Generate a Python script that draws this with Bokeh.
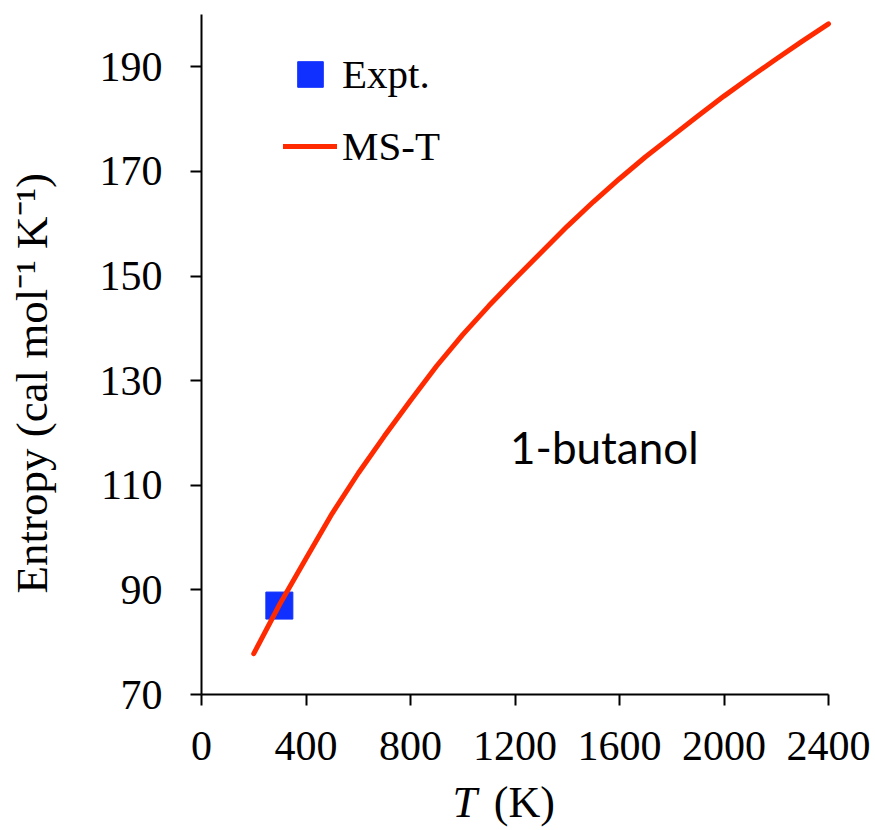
from math import pi
from bokeh.plotting import figure
from bokeh.models import Range1d, FixedTicker, Legend, LegendItem, Label
from bokeh.embed import file_html
from bokeh.resources import INLINE

# MS-T computed entropy of 1-butanol (cal mol^-1 K^-1) vs temperature (K)
temperature_K = [200, 300, 400, 500, 600, 700, 800, 900, 1000, 1100, 1200, 1300,
                 1400, 1500, 1600, 1700, 1800, 1900, 2000, 2100, 2200, 2300, 2400]
entropy_mst = [77.8, 87.3, 96.0, 104.6, 112.3, 119.4, 126.2, 132.8, 138.8, 144.3, 149.5, 154.5,
               159.5, 164.2, 168.6, 172.8, 176.7, 180.6, 184.4, 188.0, 191.5, 194.9, 198.2]

# experimental value
expt_T = [298]
expt_S = [87.0]

x_ticks = [0, 400, 800, 1200, 1600, 2000, 2400]
y_ticks = [70, 90, 110, 130, 150, 170, 190]

SERIF = "'Liberation Serif', 'Times New Roman', serif"
BLUE = "#1030FF"
RED = "#FF2A00"

# canvas layout: plot area from px 201..828 (x 0..2400) and px 694..14 (y 70..200)
W, H = 875, 830
AX_L, AX_R, AX_T, AX_B = 201, 828, 14, 694
X0, X1, Y0, Y1 = 0, 2400, 70, 200
sx = (AX_R - AX_L) / (X1 - X0)
sy = (AX_B - AX_T) / (Y1 - Y0)
x_range = Range1d(X0 - AX_L / sx, X1 + (W - AX_R) / sx)
y_range = Range1d(Y0 - (H - AX_B) / sy, Y1 + AX_T / sy)

p = figure(width=W, height=H, output_backend="svg", toolbar_location=None,
           x_range=x_range, y_range=y_range, min_border=0)
p.outline_line_color = None
p.xgrid.visible = False
p.ygrid.visible = False
p.background_fill_color = "white"
p.border_fill_color = "white"

p.xaxis.fixed_location = Y0
p.yaxis.fixed_location = X0
p.xaxis.bounds = (X0, X1)
p.yaxis.bounds = (Y0, Y1)

for ax in (p.xaxis[0], p.yaxis[0]):
    ax.axis_line_width = 2
    ax.axis_line_color = "black"
    ax.major_tick_line_width = 2
    ax.major_tick_line_color = "black"
    ax.major_tick_in = 0
    ax.major_tick_out = 11
    ax.minor_tick_line_color = None
    ax.major_label_text_font = SERIF
    ax.major_label_text_font_size = "42px"
    ax.major_label_text_color = "black"

p.xaxis.ticker = FixedTicker(ticks=x_ticks)
p.yaxis.ticker = FixedTicker(ticks=y_ticks)
p.xaxis.major_label_standoff = 26
p.yaxis.major_label_standoff = 28

sq = p.scatter(expt_T, expt_S, marker="square", size=27, color=BLUE)
ln = p.line(temperature_K, entropy_mst, line_width=5, color=RED, line_cap="round")

leg1 = Legend(items=[LegendItem(label="Expt.", renderers=[sq])], location=(278, 724),
              glyph_width=64, glyph_height=64, label_standoff=0, padding=0, margin=0,
              border_line_color=None, background_fill_alpha=0,
              label_text_font=SERIF, label_text_font_size="41px", label_text_color="black")
leg2 = Legend(items=[LegendItem(label="MS-T", renderers=[ln])], location=(283, 656),
              glyph_width=54, glyph_height=56, label_standoff=5, padding=0, margin=0,
              border_line_color=None, background_fill_alpha=0,
              label_text_font=SERIF, label_text_font_size="41px", label_text_color="black")
p.add_layout(leg1)
p.add_layout(leg2)

p.add_layout(Label(x=1181, y=117.4, text="1-butanol", text_font="Lato",
                   text_font_size="44px", text_color="black", text_baseline="alphabetic"))

p.add_layout(Label(x=-648, y=129.5, text="Entropy (cal mol\u207b\u00b9 K\u207b\u00b9)", angle=pi / 2,
                   text_font=SERIF, text_font_size="45px", text_color="black",
                   text_align="center", text_baseline="alphabetic"))
p.add_layout(Label(x=961, y=49.3, text="T", text_font=SERIF, text_font_style="italic",
                   text_font_size="44px", text_color="black", text_baseline="alphabetic"))
p.add_layout(Label(x=1119, y=49.3, text="(K)", text_font=SERIF,
                   text_font_size="44px", text_color="black", text_baseline="alphabetic"))

open("out.html", "w").write(file_html(p, INLINE))
